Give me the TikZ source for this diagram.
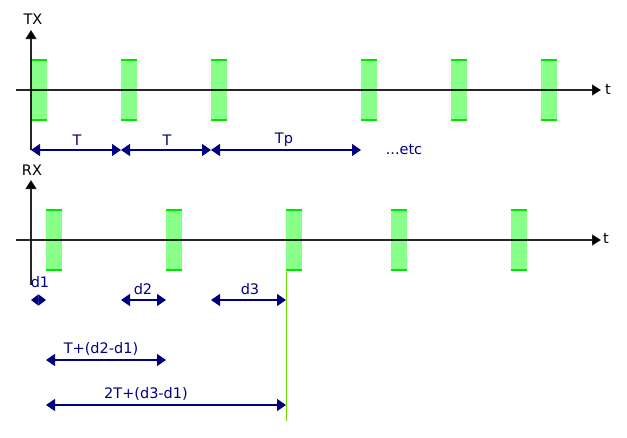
\documentclass[tikz,border=0pt]{standalone}
\usepackage{fontspec}
\setmainfont{DejaVu Sans}
\usetikzlibrary{arrows.meta}
\definecolor{navyc}{HTML}{000080}
\definecolor{pfill}{HTML}{88FF88}
\definecolor{pedge}{HTML}{00E600}
\definecolor{vline}{HTML}{66E000}
\tikzset{
  axisline/.style={line width=1.3pt, black, draw opacity=0.85},
  axis/.style={axisline, -{Triangle[length=9pt,width=11pt]}},
  dim/.style={line width=1.3pt, navyc, {Triangle[length=9pt,width=12pt]}-{Triangle[length=9pt,width=12pt]}},
  dimlbl/.style={text=navyc, font=\fontsize{14.5}{16}\selectfont, inner sep=0pt},
  axlbl/.style={text=black, font=\fontsize{14.5}{16}\selectfont, inner sep=0pt},
  pulsebox/.style={fill=pfill, draw=none},
  pulseedge/.style={draw=pedge, line width=1.2pt}
}
\newcommand{\mypulse}[3]{%
  \fill[pulsebox] (#1,#2) rectangle ({#1+15.5},#3);
  \draw[pulseedge] (#1,#2) -- ({#1+15.5},#2);
  \draw[pulseedge] (#1,#3) -- ({#1+15.5},#3);}
\begin{document}
\begin{tikzpicture}[x=1pt,y=-1pt]
\useasboundingbox[fill=white] (0,0) rectangle (627,437);
% ---------- pulses (below axes) ----------
\foreach \x in {31,121,211,361,451,541} {\mypulse{\x}{60}{120}}
\foreach \x in {46,166,286,391,511} {\mypulse{\x}{210}{270}}
% ---------- TX ----------
\coordinate (txo) at (31,150);
\coordinate (txmid) at (31,90);
\coordinate (txtop) at (31,30);
\coordinate (txl) at (16,90);
\coordinate (txr) at (601,90);
\draw[axisline] (txo) -- (txmid);
\draw[axis] (txmid) -- (txtop);
\draw[axis] (txl) -- (txr);
\node[axlbl] (txlabel) at (33,19) {TX};
\node[axlbl, anchor=west] (tlab1) at (605,89) {t};
% dimension arrows TX
\coordinate (a0) at (31,150);
\coordinate (a1) at (121,150);
\coordinate (a2) at (211,150);
\coordinate (a3) at (361,150);
\draw[dim] (a0) -- (a1);
\draw[dim] (a1) -- (a2);
\draw[dim] (a2) -- (a3);
\node[dimlbl] (lT1) at (77,140) {T};
\node[dimlbl] (lT2) at (167,140) {T};
\node[dimlbl] (lTp) at (284,140) {Tp};
\node[dimlbl] (etc) at (404,150) {...etc};
% ---------- RX ----------
\coordinate (rxo) at (31,285);
\coordinate (rxmid) at (31,240);
\coordinate (rxtop) at (31,180);
\coordinate (rxl) at (16,240);
\coordinate (rxr) at (601,240);
\draw[axisline] (rxo) -- (rxmid);
\draw[axis] (rxmid) -- (rxtop);
\draw[axis] (rxl) -- (rxr);
\node[axlbl] (rxlabel) at (32,170) {RX};
\node[axlbl, anchor=west] (tlab2) at (603,238) {t};
\coordinate (vtop) at (286.5,270);
\coordinate (vbot) at (286.5,421);
\draw[vline, line width=1.3pt] (vtop) -- (vbot);
% dimension arrows RX
\coordinate (d1a) at (31,300);
\coordinate (d1b) at (46,300);
\coordinate (d2a) at (121,300);
\coordinate (d2b) at (166,300);
\coordinate (d3a) at (211,300);
\coordinate (d3b) at (286,300);
\draw[line width=1.3pt, navyc, {Triangle[length=7.5pt,width=11pt]}-{Triangle[length=7.5pt,width=11pt]}] (d1a) -- (d1b);
\draw[dim] (d2a) -- (d2b);
\draw[dim] (d3a) -- (d3b);
\node[dimlbl] (ld1) at (40,282) {d1};
\node[dimlbl] (ld2) at (143,289) {d2};
\node[dimlbl] (ld3) at (250,289) {d3};
\coordinate (e1a) at (46,360);
\coordinate (e1b) at (166,360);
\coordinate (e2a) at (46,405);
\coordinate (e2b) at (286,405);
\draw[dim] (e1a) -- (e1b);
\draw[dim] (e2a) -- (e2b);
\node[dimlbl] (le1) at (101,349) {T+(d2-d1)};
\node[dimlbl] (le2) at (146,394) {2T+(d3-d1)};
\end{tikzpicture}
\end{document}
